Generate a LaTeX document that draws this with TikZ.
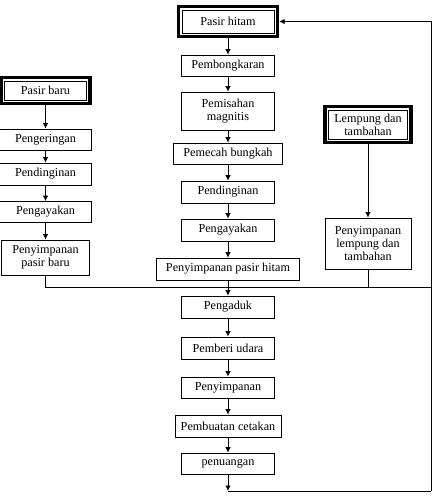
\documentclass[tikz,border=0pt]{standalone}
\usepackage{fontspec}
\setmainfont{Liberation Serif}
\usetikzlibrary{arrows.meta}
\begin{document}
\begin{tikzpicture}[x=1pt,y=-1pt,
  txt/.style={inner sep=0pt, align=center, font=\fontsize{12.2}{13.2}\selectfont},
  box/.style={txt, draw, line width=0.8pt},
  dbl/.style={txt},
  arr/.style={-{Latex[length=5.5pt,width=5.5pt]}, line width=0.8pt},
  ln/.style={line width=0.8pt},
  band/.style={line width=3.3pt},
  inner/.style={line width=0.8pt}]
\useasboundingbox (0,0) rectangle (434,499);

% centre column
\node[dbl, minimum width=102pt, minimum height=33pt] (ph) at (228,21.5) {Pasir hitam};
\node[box, minimum width=93pt, minimum height=21pt] (pb) at (228,65.5) {Pembongkaran};
\node[box, minimum width=93pt, minimum height=38pt] (pm) at (228,111) {Pemisahan\\magnitis};
\node[box, minimum width=109pt, minimum height=21pt] (pc) at (228,153.5) {Pemecah bungkah};
\node[box, minimum width=93pt, minimum height=22pt] (pd) at (228,192) {Pendinginan};
\node[box, minimum width=93pt, minimum height=22pt] (pg) at (228,230) {Pengayakan};
\node[box, minimum width=143pt, minimum height=22pt] (pph) at (228,269) {Penyimpanan pasir hitam};
\node[box, minimum width=93pt, minimum height=22pt] (pa) at (228,307) {Pengaduk};
\node[box, minimum width=93pt, minimum height=22pt] (pu) at (228,348) {Pemberi udara};
\node[box, minimum width=93pt, minimum height=21pt] (ps) at (228,387.5) {Penyimpanan};
\node[box, minimum width=106pt, minimum height=22pt] (pct) at (228,426) {Pembuatan cetakan};
\node[box, minimum width=93pt, minimum height=21pt] (pn) at (228,463.5) {penuangan};
\coordinate (bot) at (228,491);
\coordinate (br) at (431,491);

% left column
\node[dbl, minimum width=92pt, minimum height=29pt] (pbaru) at (45.5,90.5) {Pasir baru};
\node[box, minimum width=92pt, minimum height=21pt] (pk) at (45.5,139.5) {Pengeringan};
\node[box, minimum width=92pt, minimum height=22pt] (pd2) at (45.5,174) {Pendinginan};
\node[box, minimum width=92pt, minimum height=21pt] (pg2) at (45.5,212) {Pengayakan};
\node[box, minimum width=88pt, minimum height=35pt] (ppb) at (45.5,257.5) {Penyimpanan\\pasir baru};

% right column
\node[dbl, minimum width=89pt, minimum height=39pt] (lt) at (368,124.5) {Lempung dan\\tambahan};
\node[box, minimum width=86pt, minimum height=51pt] (plt) at (368,243.5) {Penyimpanan\\lempung dan\\tambahan};

% double borders
\foreach \n in {ph,pbaru,lt}{
  \draw[band] ([xshift=1.65pt,yshift=-1.65pt]\n.north west) rectangle ([xshift=-1.65pt,yshift=1.65pt]\n.south east);
  \draw[inner] ([xshift=5.3pt,yshift=-5.3pt]\n.north west) rectangle ([xshift=-5.3pt,yshift=5.3pt]\n.south east);
}

% junction line
\coordinate (jl) at (45.5,287);
\coordinate (jr) at (431,287);

% connectors centre
\draw[arr] (ph) -- (pb);
\draw[arr] (pb) -- (pm);
\draw[arr] (pm) -- (pc);
\draw[arr] (pc) -- (pd);
\draw[arr] (pd) -- (pg);
\draw[arr] (pg) -- (pph);
\draw[arr] (pph) -- (pa);
\draw[arr] (pa) -- (pu);
\draw[arr] (pu) -- (ps);
\draw[arr] (ps) -- (pct);
\draw[arr] (pct) -- (pn);
\draw[arr] (pn) -- (bot);
\draw[ln] (bot) -- (br);
\draw[arr] (br) |- (ph.east);

% connectors left
\draw[arr] (pbaru) -- (pk);
\draw[arr] (pk) -- (pd2);
\draw[arr] (pd2) -- (pg2);
\draw[arr] (pg2) -- (ppb);
\draw[ln] (ppb) -- (jl) -- (jr);

% connectors right
\draw[arr] (lt) -- (plt);
\draw[ln] (plt) -- (plt |- jl);
\end{tikzpicture}
\end{document}
